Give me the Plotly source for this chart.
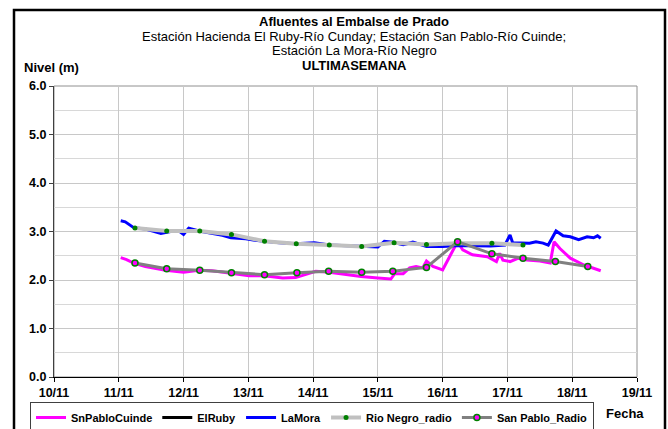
import plotly.graph_objects as go

# ---- data (x = day of November, fractional) ----
lamora_x = [11.03, 11.10, 11.23, 11.41, 11.55, 11.65, 11.80, 11.93, 12.00, 12.08, 12.24, 12.44, 12.60,
            12.73, 12.96, 13.10, 13.24, 13.48, 13.73, 14.02, 14.25, 14.50, 14.74, 15.00, 15.10, 15.23,
            15.39, 15.54, 15.75, 16.00, 16.25, 16.57, 16.74, 16.96, 17.04, 17.08, 17.34, 17.44, 17.55,
            17.63, 17.75, 17.86, 17.97, 18.10, 18.23, 18.33, 18.39, 18.44]
lamora_y = [3.22, 3.20, 3.08, 3.05, 3.00, 2.96, 3.00, 3.01, 2.94, 3.07, 3.01, 2.96, 2.92,
            2.87, 2.85, 2.82, 2.80, 2.77, 2.75, 2.77, 2.72, 2.71, 2.70, 2.68, 2.80, 2.78,
            2.73, 2.78, 2.69, 2.69, 2.71, 2.70, 2.70, 2.72, 2.93, 2.77, 2.76, 2.79, 2.76,
            2.72, 3.01, 2.91, 2.89, 2.83, 2.89, 2.87, 2.91, 2.86]

sanpablo_x = [11.03, 11.12, 11.23, 11.41, 11.72, 12.00, 12.24, 12.44, 12.73, 13.01, 13.24, 13.53, 13.73,
              13.94, 14.04, 14.25, 14.51, 14.74, 15.00, 15.20, 15.26, 15.39, 15.49, 15.59, 15.69, 15.75,
              15.85, 16.00, 16.19, 16.23, 16.31, 16.46, 16.69, 16.83, 16.88, 16.93, 17.04, 17.17, 17.30,
              17.50, 17.66, 17.72, 17.81, 17.97, 18.18, 18.44]
sanpablo_y = [2.46, 2.42, 2.35, 2.28, 2.20, 2.16, 2.20, 2.19, 2.14, 2.09, 2.09, 2.04, 2.05,
              2.13, 2.18, 2.16, 2.11, 2.07, 2.04, 2.02, 2.13, 2.13, 2.25, 2.28, 2.25, 2.39,
              2.28, 2.21, 2.69, 2.79, 2.62, 2.52, 2.48, 2.38, 2.55, 2.41, 2.38, 2.45, 2.41,
              2.39, 2.35, 2.79, 2.65, 2.45, 2.31, 2.19]

# ElRuby has no readings in the week shown
elruby_x = [None]
elruby_y = [None]

rionegro_radio_x = [11.25, 11.74, 12.25, 12.74, 13.25, 13.74, 14.25, 14.75, 15.25, 15.75, 16.24, 16.76, 17.24]
rionegro_radio_y = [3.07, 3.01, 3.01, 2.94, 2.80, 2.75, 2.72, 2.69, 2.77, 2.73, 2.76, 2.76, 2.72]

sanpablo_radio_x = [11.25, 11.74, 12.25, 12.74, 13.25, 13.75, 14.24, 14.75, 15.23, 15.75, 16.23, 16.76,
                    17.24, 17.74, 18.24]
sanpablo_radio_y = [2.35, 2.23, 2.20, 2.15, 2.11, 2.15, 2.18, 2.16, 2.18, 2.26, 2.79, 2.54,
                    2.45, 2.38, 2.28]

tick_vals = [10, 11, 12, 13, 14, 15, 16, 17, 18, 19]
tick_text = ["10/11", "11/11", "12/11", "13/11", "14/11", "15/11", "16/11", "17/11", "18/11", "19/11"]

FONT = "Liberation Sans, Arial, sans-serif"

fig = go.Figure()
fig.add_trace(go.Scatter(x=sanpablo_x, y=sanpablo_y, mode="lines", name="SnPabloCuinde",
                         line=dict(color="#FF00FF", width=3)))
fig.add_trace(go.Scatter(x=elruby_x, y=elruby_y, mode="lines", name="ElRuby",
                         line=dict(color="#000000", width=3), showlegend=True))
fig.add_trace(go.Scatter(x=lamora_x, y=lamora_y, mode="lines", name="LaMora",
                         line=dict(color="#0000FF", width=3)))
fig.add_trace(go.Scatter(x=rionegro_radio_x, y=rionegro_radio_y, mode="lines+markers", name="Rio Negro_radio",
                         line=dict(color="#C0C0C0", width=4),
                         marker=dict(color="#008000", size=5, line=dict(width=0))))
fig.add_trace(go.Scatter(x=sanpablo_radio_x, y=sanpablo_radio_y, mode="lines+markers", name="San Pablo_Radio",
                         line=dict(color="#808080", width=3),
                         marker=dict(color="#FF00FF", size=6, line=dict(color="#008000", width=1.5))))

L, R, T, B = 54, 31, 86, 52
W, H = 668, 429
pw, ph = W - L - R, H - T - B

def px(xp):
    return (xp - L) / pw

def py(yp):
    return (H - B - yp) / ph

fig.update_layout(
    width=W, height=H,
    margin=dict(l=L, r=R, t=T, b=B, autoexpand=False),
    paper_bgcolor="white", plot_bgcolor="white",
    font=dict(family=FONT, size=11, color="black"),
    showlegend=True,
    legend=dict(orientation="h", x=px(30), y=py(402), xanchor="left", yanchor="top",
                bordercolor="#404040", borderwidth=1, bgcolor="white",
                font=dict(size=11, family=FONT, weight="bold"),
                itemwidth=30, tracegroupgap=0),
    xaxis=dict(range=[10, 19], tickvals=tick_vals, ticktext=tick_text,
               showgrid=True, gridcolor="#C8C8C8", gridwidth=1,
               showline=True, linecolor="black", linewidth=1,
               ticks="outside", ticklen=4, tickcolor="black",
               tickfont=dict(size=12.5, family=FONT, weight="bold"),
               zeroline=False, fixedrange=True),
    yaxis=dict(range=[0, 6], dtick=1, tickformat=".1f",
               showgrid=True, gridcolor="#C8C8C8", gridwidth=1,
               minor=dict(dtick=0.5, showgrid=True, gridcolor="#D8D8D8", gridwidth=1),
               showline=True, linecolor="#404040", linewidth=1,
               ticks="outside", ticklen=4, tickcolor="#404040",
               tickfont=dict(size=12.5, family=FONT, weight="bold"),
               zeroline=False, fixedrange=True),
)

# plot area frame (grey top/right) and outer chart border
fig.add_shape(type="rect", xref="paper", yref="paper", x0=0, x1=1, y0=0, y1=1,
              line=dict(color="#909090", width=1), layer="below")
fig.add_shape(type="rect", xref="paper", yref="paper", x0=px(14), x1=px(665), y0=py(440), y1=py(10),
              line=dict(color="black", width=2.5))

titles = [
    ("<b>Afluentes al Embalse de Prado</b>", 22),
    ("Estación Hacienda El Ruby-Río Cunday; Estación San Pablo-Río Cuinde;", 37),
    ("Estación La Mora-Río Negro", 51),
    ("<b>ULTIMASEMANA</b>", 65),
]
for txt, yp in titles:
    fig.add_annotation(text=txt, xref="paper", yref="paper", x=px(354), y=py(yp),
                       xanchor="center", yanchor="middle", showarrow=False,
                       font=dict(size=13, family=FONT))

fig.add_annotation(text="<b>Nivel (m)</b>", xref="paper", yref="paper", x=px(22), y=py(67),
                   xanchor="left", yanchor="middle", showarrow=False, font=dict(size=13, family=FONT))
fig.add_annotation(text="<b>Fecha</b>", xref="paper", yref="paper", x=px(625), y=py(413),
                   xanchor="center", yanchor="middle", showarrow=False, font=dict(size=13, family=FONT))

fig.write_html("out.html", config={"displayModeBar": False},
               post_script="document.body.style.margin='0';")
